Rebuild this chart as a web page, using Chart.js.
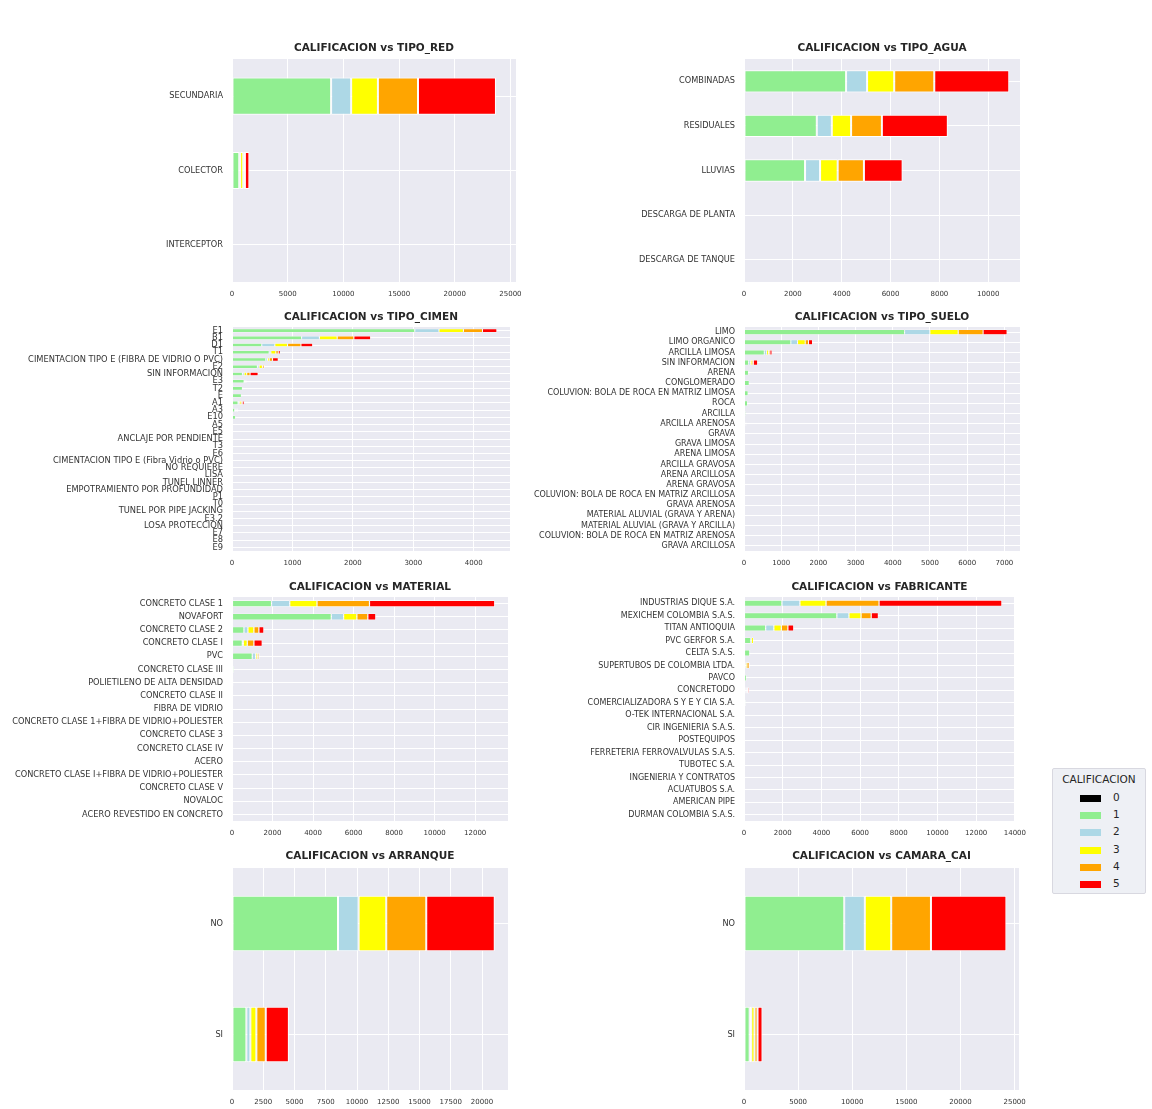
<!DOCTYPE html>
<html lang="es">
<head>
<meta charset="UTF-8">
<title>CALIFICACION</title>
<script src="https://cdn.jsdelivr.net/npm/chart.js"></script>
<style>
    body { margin: 0; background: #fff; width: 1152px; height: 1109px; position: relative; overflow: hidden; }
    canvas { position: absolute; }
    #legend {
        position: absolute; left: 1052px; top: 768px; width: 94px; height: 126px;
        background: #eef0f5; border: 1px solid #d8d8e0; border-radius: 2px;
        font-family: 'DejaVu Sans', sans-serif; color: #262626; box-sizing: border-box;
    }
    #legend .ttl { font-size: 10.5px; text-align: center; margin-top: 4px; }
    #legend .row { height: 17.2px; position: relative; font-size: 10.5px; }
    #legend .sw { position: absolute; left: 27px; top: 5px; width: 21px; height: 7px; }
    #legend .lb { position: absolute; left: 60px; top: 1px; }
</style>
</head>
<body>
<canvas id="c1"></canvas>
<canvas id="c2"></canvas>
<canvas id="c3"></canvas>
<canvas id="c4"></canvas>
<canvas id="c5"></canvas>
<canvas id="c6"></canvas>
<canvas id="c7"></canvas>
<canvas id="c8"></canvas>
<div id="legend"></div>

<script>
// grades (CALIFICACION) and their colours
const grades = ['0', '1', '2', '3', '4', '5'];
const gradeColors = ['#000000', '#90ee90', '#add8e6', '#ffff00', '#ffa500', '#ff0000'];

// each *Counts array: one row per grade 0..5, one value per category
const tipoRedCats = ['SECUNDARIA', 'COLECTOR', 'INTERCEPTOR'];
const tipoRedCounts = [
    [0, 0, 0],
    [8900, 650, 4],
    [1800, 80, 1],
    [2400, 280, 1],
    [3600, 150, 1],
    [7000, 400, 2]
];
const tipoRedTicks = [0, 5000, 10000, 15000, 20000, 25000];

const tipoAguaCats = ['COMBINADAS', 'RESIDUALES', 'LLUVIAS', 'DESCARGA DE PLANTA', 'DESCARGA DE TANQUE'];
const tipoAguaCounts = [
    [0, 0, 0, 0, 0],
    [4180, 2980, 2500, 2, 1],
    [860, 615, 615, 0, 0],
    [1110, 790, 720, 1, 0],
    [1640, 1260, 1075, 0, 0],
    [3070, 2700, 1585, 1, 1]
];
const tipoAguaTicks = [0, 2000, 4000, 6000, 8000, 10000];

const tipoCimenCats = ['E1', 'B1', 'D1', 'T1', 'CIMENTACION TIPO E (FIBRA DE VIDRIO O PVC)', 'E2', 'SIN INFORMACION',
    'E3', 'T2', 'E', 'A1', 'A3', 'E10', 'A5', 'E5', 'ANCLAJE POR PENDIENTE', 'T3', 'E6',
    'CIMENTACION TIPO E (Fibra Vidrio o PVC)', 'NO REQUIERE', 'LISA', 'TUNEL LINNER',
    'EMPOTRAMIENTO POR PROFUNDIDAD', 'P1', 'T0', 'TUNEL POR PIPE JACKING', 'E3.2', 'LOSA PROTECCION', 'E7', 'E8', 'E9'];
const tipoCimenCounts = [
    [0, 0, 0, 0, 0, 0, 0, 0, 0, 0, 0, 0, 0, 0, 0, 0, 0, 0, 0, 0, 0, 0, 0, 0, 0, 0, 0, 0, 0, 0, 0],
    [3025, 1152, 493, 615, 560, 420, 172, 200, 172, 155, 100, 45, 60, 15, 10, 6, 8, 4, 3, 3, 2, 2, 2, 1, 1, 1, 1, 1, 1, 1, 1],
    [400, 294, 216, 28, 28, 28, 28, 10, 5, 3, 20, 10, 3, 2, 1, 0, 0, 0, 0, 0, 0, 0, 0, 0, 0, 0, 0, 0, 0, 0, 0],
    [404, 294, 210, 83, 28, 55, 44, 10, 5, 3, 30, 15, 3, 2, 1, 1, 0, 0, 0, 0, 0, 0, 0, 0, 0, 0, 0, 0, 0, 0, 0],
    [316, 277, 222, 39, 55, 28, 55, 10, 5, 3, 20, 10, 2, 1, 1, 0, 0, 0, 0, 0, 0, 0, 0, 0, 0, 0, 0, 0, 0, 0, 0],
    [238, 277, 194, 33, 94, 11, 133, 10, 5, 3, 30, 15, 2, 1, 1, 1, 1, 0, 0, 0, 0, 0, 0, 0, 0, 0, 0, 0, 0, 0, 0]
];
const tipoCimenTicks = [0, 1000, 2000, 3000, 4000];

const tipoSueloCats = ['LIMO', 'LIMO ORGANICO', 'ARCILLA LIMOSA', 'SIN INFORMACION', 'ARENA', 'CONGLOMERADO',
    'COLUVION: BOLA DE ROCA EN MATRIZ LIMOSA', 'ROCA', 'ARCILLA', 'ARCILLA ARENOSA', 'GRAVA', 'GRAVA LIMOSA',
    'ARENA LIMOSA', 'ARCILLA GRAVOSA', 'ARENA ARCILLOSA', 'ARENA GRAVOSA', 'COLUVION: BOLA DE ROCA EN MATRIZ ARCILLOSA',
    'GRAVA ARENOSA', 'MATERIAL ALUVIAL (GRAVA Y ARENA)', 'MATERIAL ALUVIAL (GRAVA Y ARCILLA)',
    'COLUVION: BOLA DE ROCA EN MATRIZ ARENOSA', 'GRAVA ARCILLOSA'];
const tipoSueloCounts = [
    [0, 0, 0, 0, 0, 0, 0, 0, 0, 0, 0, 0, 0, 0, 0, 0, 0, 0, 0, 0, 0, 0],
    [4318, 1260, 545, 125, 120, 140, 110, 95, 45, 30, 28, 22, 18, 10, 8, 6, 5, 4, 3, 2, 2, 1],
    [680, 180, 63, 45, 10, 8, 5, 3, 3, 10, 2, 2, 1, 1, 0, 0, 0, 0, 0, 0, 0, 0],
    [760, 205, 54, 45, 10, 8, 5, 3, 3, 10, 2, 1, 1, 0, 0, 0, 0, 0, 0, 0, 0, 0],
    [670, 90, 36, 36, 8, 6, 5, 3, 2, 5, 2, 1, 1, 0, 0, 0, 0, 0, 0, 0, 0, 0],
    [644, 107, 54, 116, 10, 8, 5, 3, 2, 10, 2, 1, 1, 1, 0, 0, 0, 0, 0, 0, 0, 0]
];
const tipoSueloTicks = [0, 1000, 2000, 3000, 4000, 5000, 6000, 7000];

const materialCats = ['CONCRETO CLASE 1', 'NOVAFORT', 'CONCRETO CLASE 2', 'CONCRETO CLASE I', 'PVC',
    'CONCRETO CLASE III', 'POLIETILENO DE ALTA DENSIDAD', 'CONCRETO CLASE II', 'FIBRA DE VIDRIO',
    'CONCRETO CLASE 1+FIBRA DE VIDRIO+POLIESTER', 'CONCRETO CLASE 3', 'CONCRETO CLASE IV', 'ACERO',
    'CONCRETO CLASE I+FIBRA DE VIDRIO+POLIESTER', 'CONCRETO CLASE V', 'NOVALOC', 'ACERO REVESTIDO EN CONCRETO'];
const materialCounts = [
    [0, 0, 0, 0, 0, 0, 0, 0, 0, 0, 0, 0, 0, 0, 0, 0, 0],
    [1950, 4900, 590, 508, 1000, 90, 70, 45, 10, 8, 6, 5, 4, 3, 2, 2, 1],
    [900, 607, 197, 49, 164, 5, 5, 2, 1, 1, 0, 0, 0, 0, 0, 0, 0],
    [1345, 656, 295, 197, 82, 5, 3, 2, 1, 0, 0, 0, 0, 0, 0, 0, 0],
    [2590, 541, 246, 328, 82, 3, 2, 1, 1, 0, 0, 0, 0, 0, 0, 0, 0],
    [6180, 394, 246, 410, 33, 3, 2, 1, 0, 1, 0, 0, 0, 0, 0, 0, 0]
];
const materialTicks = [0, 2000, 4000, 6000, 8000, 10000, 12000];

const fabricanteCats = ['INDUSTRIAS DIQUE S.A.', 'MEXICHEM COLOMBIA S.A.S.', 'TITAN ANTIOQUIA', 'PVC GERFOR S.A.',
    'CELTA S.A.S.', 'SUPERTUBOS DE COLOMBIA LTDA.', 'PAVCO', 'CONCRETODO', 'COMERCIALIZADORA S Y E Y CIA S.A.',
    'O-TEK INTERNACIONAL S.A.', 'CIR INGENIERIA S.A.S.', 'POSTEQUIPOS', 'FERRETERIA FERROVALVULAS S.A.S.',
    'TUBOTEC S.A.', 'INGENIERIA Y CONTRATOS', 'ACUATUBOS S.A.', 'AMERICAN PIPE', 'DURMAN COLOMBIA S.A.S.'];
const fabricanteCounts = [
    [0, 0, 0, 0, 0, 0, 0, 0, 0, 0, 0, 0, 0, 0, 0, 0, 0, 0],
    [1960, 4800, 1120, 355, 300, 50, 130, 20, 90, 12, 8, 7, 5, 4, 3, 2, 2, 1],
    [930, 625, 422, 20, 15, 20, 5, 60, 5, 1, 0, 0, 0, 0, 0, 0, 0, 0],
    [1350, 625, 389, 120, 15, 80, 3, 60, 3, 1, 0, 0, 0, 0, 0, 0, 0, 0],
    [2740, 524, 338, 15, 5, 120, 2, 60, 2, 1, 0, 0, 0, 0, 0, 0, 0, 0],
    [6350, 372, 304, 10, 5, 40, 2, 70, 2, 0, 1, 0, 0, 0, 0, 0, 0, 0]
];
const fabricanteTicks = [0, 2000, 4000, 6000, 8000, 10000, 12000, 14000];

const arranqueCats = ['NO', 'SI'];
const arranqueCounts = [
    [0, 0],
    [8480, 1150],
    [1650, 320],
    [2210, 480],
    [3200, 750],
    [5480, 1850]
];
const arranqueTicks = [0, 2500, 5000, 7500, 10000, 12500, 15000, 17500, 20000];

const camaraCats = ['NO', 'SI'];
const camaraCounts = [
    [0, 0],
    [9260, 520],
    [1900, 150],
    [2440, 300],
    [3670, 280],
    [6970, 460]
];
const camaraTicks = [0, 5000, 10000, 15000, 20000, 25000];

const FONT = "'DejaVu Sans', sans-serif";
const TXT = '#333333';
const TITLE_SIZE = 10.5;

const plotBg = {
    id: 'plotBg',
    beforeDraw(chart) {
        const a = chart.chartArea;
        const ctx = chart.ctx;
        ctx.save();
        ctx.fillStyle = '#eaeaf2';
        ctx.fillRect(a.left, a.top, a.right - a.left, a.bottom - a.top);
        ctx.restore();
    }
};

// box: canvas left/top, plot left/right/top/bottom (page px)
function makePanel(id, title, cats, counts, ticks, xMax, box, opt) {
    const canvas = document.getElementById(id);
    const padR = 14, xAxisH = 22;
    const w = box.right - box.left + padR;
    const h = box.bottom + xAxisH - box.top;
    canvas.width = w; canvas.height = h;
    canvas.style.left = box.left + 'px';
    canvas.style.top = box.top + 'px';
    const titleGap = box.plotTop - box.top - TITLE_SIZE * 1.2;

    new Chart(canvas, {
        type: 'bar',
        data: {
            labels: cats,
            datasets: grades.map((g, i) => ({
                label: g,
                data: counts[i],
                backgroundColor: gradeColors[i],
                borderColor: '#ffffff',
                borderWidth: opt.bw,
                borderSkipped: false,
                barPercentage: 0.5,
                categoryPercentage: 1
            }))
        },
        options: {
            indexAxis: 'y',
            responsive: false,
            animation: false,
            layout: { padding: { left: 0, right: padR, top: 0, bottom: 0 } },
            plugins: {
                legend: { display: false },
                tooltip: { enabled: false },
                title: {
                    display: true, text: title, fullSize: false, color: '#262626',
                    font: { family: FONT, size: TITLE_SIZE, weight: 'bold', lineHeight: 1.2 },
                    padding: { top: 0, bottom: titleGap }
                }
            },
            scales: {
                x: {
                    stacked: true, min: 0, max: xMax,
                    afterBuildTicks: s => { s.ticks = ticks.map(v => ({ value: v })); },
                    afterFit: s => { s.height = xAxisH; },
                    ticks: { color: TXT, font: { family: FONT, size: 7 }, padding: 8, maxRotation: 0, autoSkip: false,
                        callback: v => String(v) },
                    grid: { color: '#ffffff', lineWidth: 1, drawTicks: false },
                    border: { display: false }
                },
                y: {
                    stacked: true,
                    afterFit: s => { s.width = box.plotLeft - box.left; },
                    ticks: { color: TXT, font: { family: FONT, size: opt.fs }, padding: 9, autoSkip: false },
                    grid: { color: '#ffffff', lineWidth: 1, offset: false, drawTicks: false },
                    border: { display: false }
                }
            }
        },
        plugins: [plotBg]
    });
}

const rows = [
    { top: 42, plotTop: 59, bottom: 282 },
    { top: 311, plotTop: 327, bottom: 551 },
    { top: 581, plotTop: 597, bottom: 821 },
    { top: 850, plotTop: 868, bottom: 1090 }
];
function leftBox(r, right) { return { left: 0, top: r.top, plotTop: r.plotTop, bottom: r.bottom, plotLeft: 232, right: right }; }
function rightBox(r, right) { return { left: 520, top: r.top, plotTop: r.plotTop, bottom: r.bottom, plotLeft: 744, right: right }; }

makePanel('c1', 'CALIFICACION vs TIPO_RED', tipoRedCats, tipoRedCounts, tipoRedTicks, 25500, leftBox(rows[0], 516), { bw: 1, fs: 8.2 });
makePanel('c2', 'CALIFICACION vs TIPO_AGUA', tipoAguaCats, tipoAguaCounts, tipoAguaTicks, 11300, rightBox(rows[0], 1020), { bw: 1, fs: 8.2 });
makePanel('c3', 'CALIFICACION vs TIPO_CIMEN', tipoCimenCats, tipoCimenCounts, tipoCimenTicks, 4600, leftBox(rows[1], 510), { bw: 0.5, fs: 8.3 });
makePanel('c4', 'CALIFICACION vs TIPO_SUELO', tipoSueloCats, tipoSueloCounts, tipoSueloTicks, 7420, rightBox(rows[1], 1020), { bw: 0.5, fs: 8 });
makePanel('c5', 'CALIFICACION vs MATERIAL', materialCats, materialCounts, materialTicks, 13620, leftBox(rows[2], 508), { bw: 0.6, fs: 8.2 });
makePanel('c6', 'CALIFICACION vs FABRICANTE', fabricanteCats, fabricanteCounts, fabricanteTicks, 14000, rightBox(rows[2], 1020), { bw: 0.6, fs: 8 });
makePanel('c7', 'CALIFICACION vs ARRANQUE', arranqueCats, arranqueCounts, arranqueTicks, 22080, leftBox(rows[3], 508), { bw: 1, fs: 8.2 });
makePanel('c8', 'CALIFICACION vs CAMARA_CAI', camaraCats, camaraCounts, camaraTicks, 25400, rightBox(rows[3], 1020), { bw: 1, fs: 8.2 });

// shared legend
const leg = document.getElementById('legend');
let html = '<div class="ttl">CALIFICACION</div><div style="height:5px"></div>';
grades.forEach((g, i) => {
    html += '<div class="row"><span class="sw" style="background:' + gradeColors[i] + '"></span><span class="lb">' + g + '</span></div>';
});
leg.innerHTML = html;
</script>
</body>
</html>
